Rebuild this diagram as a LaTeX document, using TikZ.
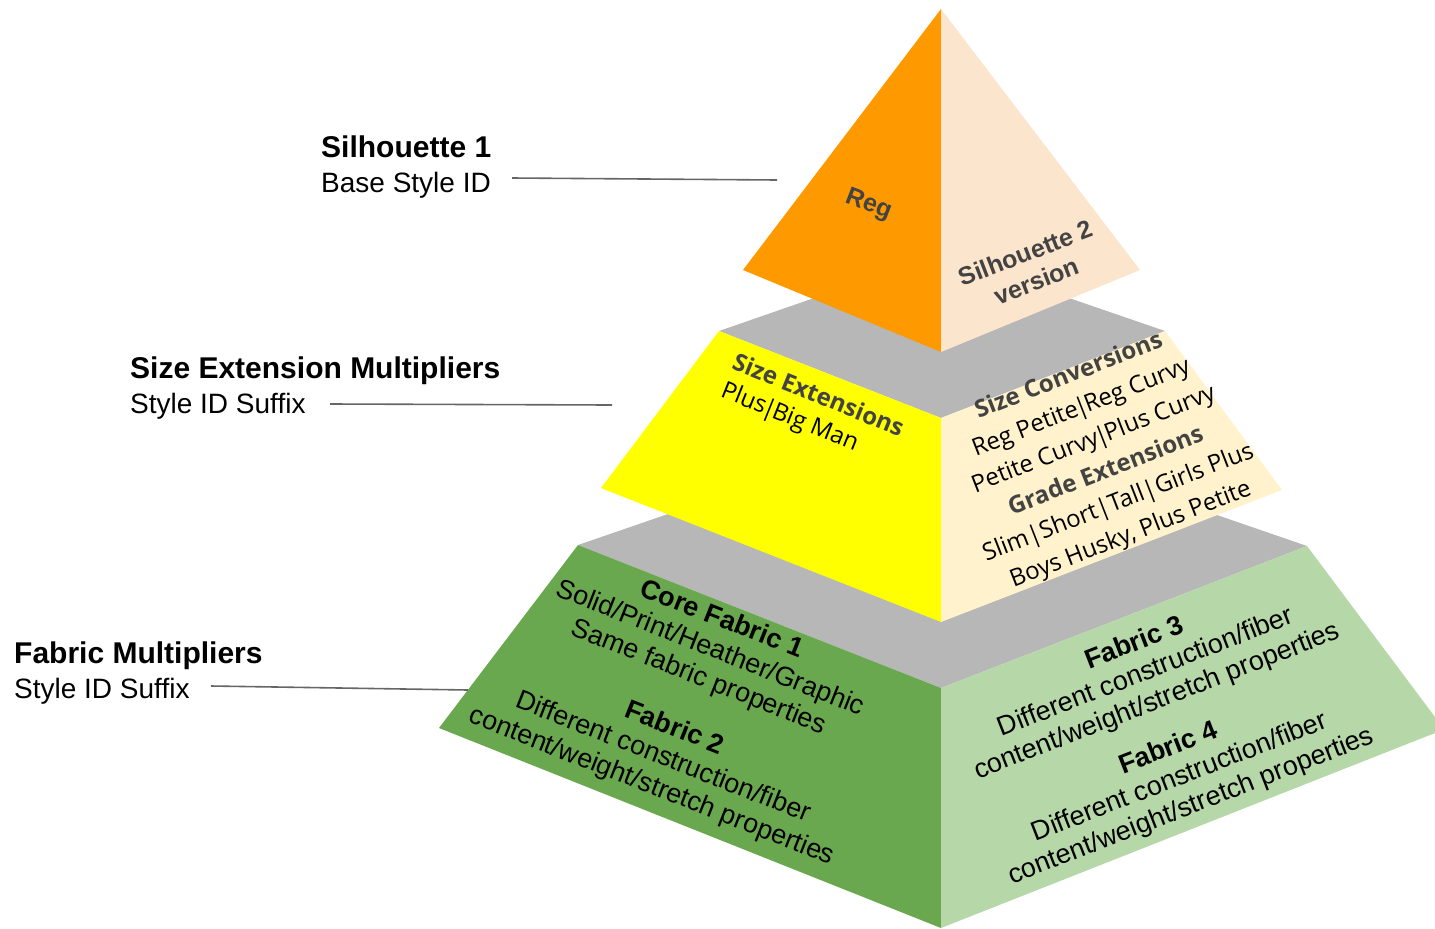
\documentclass[tikz,border=0pt]{standalone}
\usepackage{fontspec}
\setmainfont{Liberation Sans}
\newfontfamily\osans{Open Sans}
\definecolor{cOrange}{HTML}{FF9900}
\definecolor{cPeach}{HTML}{FCE5CD}
\definecolor{cGray}{HTML}{B7B7B7}
\definecolor{cYellow}{HTML}{FFFF00}
\definecolor{cCream}{HTML}{FFF2CC}
\definecolor{cGreen}{HTML}{6AA84F}
\definecolor{cLGreen}{HTML}{B6D7A8}
\definecolor{cText}{HTML}{434343}
\definecolor{cLine}{HTML}{666666}
\newcommand{\tbar}{\kern-2.5pt|\kern-2.5pt}
\begin{document}
\begin{tikzpicture}[x=1pt,y=-1pt,
  lbltitle/.style={anchor=base west,inner sep=0pt,font=\fontsize{30}{35}\selectfont\bfseries},
  lblsub/.style={anchor=base west,inner sep=0pt,font=\fontsize{28}{32}\selectfont},
  leader/.style={draw=cLine,line width=1.6pt},
  lface/.style={rotate=-21.5,align=center,inner sep=0pt},
  rface/.style={rotate=21.3,align=center,inner sep=0pt},
  robo/.style={font=\fontsize{27}{31}\selectfont},
  osn/.style={font=\osans\fontsize{24}{34}\selectfont},
  arb/.style={font=\fontsize{25}{30}\selectfont\bfseries,text=cText}]
\useasboundingbox (0,0) rectangle (1435,929);
% ---- bottom tier
\coordinate (bL) at (578,545);
\coordinate (bB) at (941,420);
\coordinate (bR) at (1307,546);
\coordinate (bF) at (941,688);
\coordinate (bLL) at (439,728);
\coordinate (bBot) at (941,928);
\fill[cGray] (bL) -- (bB) -- (bR) -- (bF) -- cycle;
\fill[cGreen] (bL) -- (bF) -- (bBot) -- (bLL) -- cycle;
\fill[cLGreen] (bF) -- (bR) -- (1435,717) -- (1435,733) -- (bBot) -- cycle;
% ---- middle tier
\coordinate (mL) at (719,331);
\coordinate (mB) at (941,254);
\coordinate (mR) at (1165,331);
\coordinate (mF) at (941,418);
\coordinate (mLL) at (601,488);
\coordinate (mRR) at (1282,490);
\coordinate (mBot) at (941,622);
\fill[cGray] (mL) -- (mB) -- (mR) -- (mF) -- cycle;
\fill[cYellow] (mL) -- (mF) -- (mBot) -- (mLL) -- cycle;
\fill[cCream] (mF) -- (mR) -- (mRR) -- (mBot) -- cycle;
% ---- top pyramid
\coordinate (apex) at (941,9);
\coordinate (tL) at (743,270);
\coordinate (tR) at (1140,270);
\coordinate (tF) at (941,352);
\fill[cOrange] (apex) -- (tL) -- (tF) -- cycle;
\fill[cPeach] (apex) -- (tF) -- (tR) -- cycle;
% ---- left labels
\node[lbltitle] (s1t) at (321,157) {Silhouette 1};
\node[lblsub] (s1s) at (321,192) {Base Style ID};
\node[lbltitle] (s2t) at (130,378) {Size Extension Multipliers};
\node[lblsub] (s2s) at (130,413) {Style ID Suffix};
\node[lbltitle] (s3t) at (14,663) {Fabric Multipliers};
\node[lblsub] (s3s) at (14,698) {Style ID Suffix};
\coordinate (c1a) at (512,178);
\coordinate (c1b) at (777,180);
\coordinate (c2a) at (330,404);
\coordinate (c2b) at (612,405);
\coordinate (c3a) at (211,686);
\coordinate (c3b) at (468,690);
\draw[leader] (c1a) -- (c1b);
\draw[leader] (c2a) -- (c2b);
\draw[leader] (c3a) -- (c3b);
% ---- texts on faces
\node[arb,rotate=-21] (reg) at (869,205) {Reg};
\node[arb,rotate=21,align=center,inner sep=0pt] (sil2) at (1031,267) {Silhouette 2\\version};
\node[osn,rotate=-22,align=left,inner sep=0pt,font=\osans\fontsize{24}{30}\selectfont] (sext) at (812,411)
  {\textbf{\color{cText}Size Extensions}\\Plus\tbar Big Man};
\node[osn,rface] (sconv) at (1100,456)
  {\textbf{\color{cText}Size Conversions}\\Reg Petite\tbar Reg Curvy\\Petite Curvy\tbar Plus Curvy\\
   \textbf{\color{cText}Grade Extensions}\\Slim|Short|Tall|Girls Plus\\Boys Husky, Plus Petite};
\node[robo,lface] (f1) at (710,649)
  {\textbf{Core Fabric 1}\\Solid/Print/Heather/Graphic\\Same fabric properties};
\node[robo,lface] (f2) at (663,758)
  {\textbf{Fabric 2}\\Different construction/fiber\\content/weight/stretch properties};
\node[robo,rface] (f3) at (1146,673)
  {\textbf{Fabric 3}\\Different construction/fiber\\content/weight/stretch properties};
\node[robo,rface] (f4) at (1180,778)
  {\textbf{Fabric 4}\\Different construction/fiber\\content/weight/stretch properties};
\end{tikzpicture}
\end{document}
